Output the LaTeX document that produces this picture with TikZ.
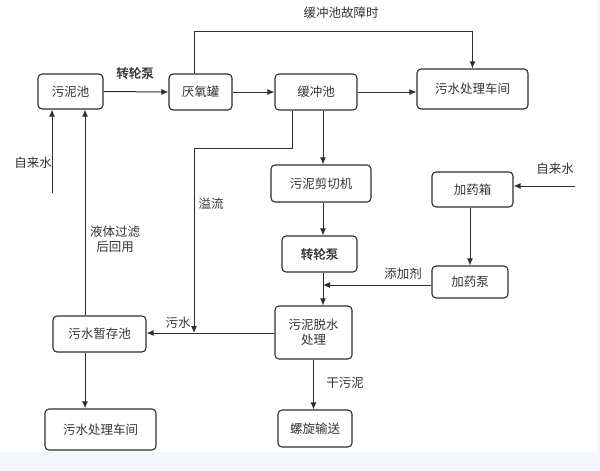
\documentclass[tikz,border=0pt]{standalone}
\usepackage{fontspec}
\newfontfamily\cjk{Noto Sans CJK SC}
\newfontfamily\cjkb[FakeBold=1.6]{Noto Sans CJK SC}
\usepackage{tikz}
\usetikzlibrary{arrows.meta,positioning,calc}
\definecolor{ln}{HTML}{2E2E2E}
\definecolor{tx}{HTML}{333333}
\definecolor{strip}{HTML}{F4F7FB}

\begin{document}
\begin{tikzpicture}[x = 1pt, y = -1pt, >={Latex[length=7pt,width=6pt]},
  font=\cjk\fontsize{12.5}{15}\selectfont, text=tx,
  box/.style={draw=ln, line width=1.1pt, rounded corners=4pt, inner sep=0pt, align=center},
  lab/.style={inner sep=1pt, align=center}]
\useasboundingbox (0,0) rectangle (600,471);
\fill[strip] (0,452) rectangle (600,471);
\fill[strip] (597,0) rectangle (600,452);

\node[box, minimum width=65pt, minimum height=35pt] (sludge) at (70.5, 91.5) {污泥池};
\node[box, minimum width=63pt, minimum height=36pt] (tank) at (200.5, 92) {厌氧罐};
\node[box, minimum width=82pt, minimum height=36pt] (buffer) at (316, 92) {缓冲池};
\node[box, minimum width=111pt, minimum height=40pt] (plant) at (472.5, 89) {污水处理车间};

\node[box, minimum width=100pt, minimum height=37pt] (shear) at (321, 183.5) {污泥剪切机};
\node[box, minimum width=75pt, minimum height=36pt] (pump) at (319.5, 254) {\cjkb 转轮泵};
\node[box, minimum width=77pt, minimum height=53pt] (dewater) at (313.5, 332.5) {污泥脱水\\处理};
\node[box, minimum width=74pt, minimum height=37pt] (screw) at (315, 428.5) {螺旋输送};

\node[box, minimum width=81pt, minimum height=35pt] (dosebox) at (472.5, 189.5) {加药箱};
\node[box, minimum width=76pt, minimum height=32pt] (dosepump) at (470, 282) {加药泵};

\node[box, minimum width=93pt, minimum height=36pt] (store) at (99.5, 334) {污水暂存池};
\node[box, minimum width=111pt, minimum height=41pt] (plant2) at (100.5, 429.5) {污水处理车间};

% turning points
\coordinate (fault) at (340, 31);
\coordinate (ov1) at (292, 148);
\coordinate (ov2) at (194, 148);
\coordinate (join) at (194, 333);
\coordinate (mix) at (323, 285);
\coordinate (ret) at (85, 0);
\coordinate (tapL) at (52, 193);
\coordinate (tapR) at (575, 186);

\draw[->, ln, line width=1pt] (sludge.east) -- (tank.west);
\draw[->, ln, line width=1pt] (tank.east) -- (buffer.west);
\draw[->, ln, line width=1pt] (buffer.east) -- (buffer.east -| plant.west);
\draw[->, ln, line width=1pt] (tank.north -| ov2) -- (ov2 |- fault) -| (plant.north);

\draw[->, ln, line width=1pt] (ov1 |- buffer.south) -- (ov1) -- (ov2) -- (join);
\draw[->, ln, line width=1pt] (mix |- buffer.south) -- (mix |- shear.north);
\draw[->, ln, line width=1pt] (mix |- shear.south) -- (mix |- pump.north);
\draw[->, ln, line width=1pt] (mix |- pump.south) -- (mix |- dewater.north);
\draw[->, ln, line width=1pt] (dosepump.west |- mix) -- (mix);

\draw[->, ln, line width=1pt] (tapR) -- (tapR -| dosebox.east);
\draw[->, ln, line width=1pt] (dosepump.north |- dosebox.south) -- (dosepump.north);

\draw[->, ln, line width=1pt] (dewater.west |- join) -- (join -| store.east);
\draw[->, ln, line width=1pt] (dewater.south) -- (dewater.south |- screw.north);

\draw[->, ln, line width=1pt] (ret |- store.north) -- (ret |- sludge.south);
\draw[->, ln, line width=1pt] (ret |- store.south) -- (ret |- plant2.north);
\draw[->, ln, line width=1pt] (tapL) -- (tapL |- sludge.south);

\node[lab] (lpump) at (135, 73) {\cjkb 转轮泵};
\node[lab] (lfault) at (341, 13) {缓冲池故障时};
\node[lab] (ltapL) at (33, 163) {自来水};
\node[lab] (ltapR) at (555, 169) {自来水};
\node[lab] (lreuse) at (115, 239) {液体过滤\\后回用};
\node[lab] (lover) at (211, 204) {溢流};
\node[lab] (ladd) at (403, 274) {添加剂};
\node[lab] (lsew) at (178, 323) {污水};
\node[lab] (ldry) at (345, 383) {干污泥};

\end{tikzpicture}
\end{document}
